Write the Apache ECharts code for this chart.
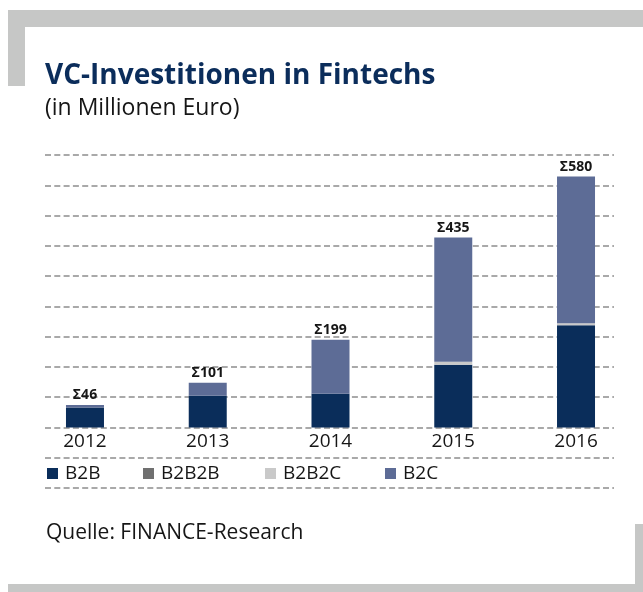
<!DOCTYPE html>
<html>
<head>
<meta charset="utf-8">
<script src="https://cdn.jsdelivr.net/npm/echarts@6/dist/echarts.min.js"></script>
<style>
html,body{margin:0;padding:0;background:#fff;}
#chart{width:643px;height:592px;}
</style>
</head>
<body>
<div id="chart"></div>
<script>
const years = ['2012', '2013', '2014', '2015', '2016'];
const b2b = [46, 73, 78, 145, 236];
const b2b2b = [0, 0, 0, 0, 0];
const b2b2c = [0, 0, 0, 7, 5];
const b2c = [6, 30, 125, 287, 339];
const totals = [46, 101, 199, 435, 580];
const seriesNames = ['B2B', 'B2B2B', 'B2B2C', 'B2C'];

const FONT = 'Open Sans';
const TEXT = '#161616';
const colors = ['#0a2d5a', '#707070', '#c9c9c9', '#5d6c96'];
const FRAME = '#c6c7c6';

const chart = echarts.init(document.getElementById('chart'), null, {renderer: 'canvas'});

const legendLefts = [47, 143, 265, 385];
const legends = seriesNames.map((n, i) => ({
  data: [n],
  left: legendLefts[i],
  top: 464,
  padding: 0,
  icon: 'rect',
  itemWidth: 11,
  itemHeight: 11,
  itemGap: 0,
  selectedMode: false,
  textStyle: {fontFamily: FONT, fontSize: 19, color: TEXT, padding: [0, 0, 0, 2]}
}));

const seriesData = [b2b, b2b2b, b2b2c, b2c];
const series = seriesNames.map((n, i) => ({
  name: n,
  type: 'bar',
  stack: 'total',
  xAxisIndex: 1,
  yAxisIndex: 1,
  barWidth: 38,
  itemStyle: {color: colors[i]},
  data: seriesData[i],
  label: i === 3 ? {
    show: true,
    position: 'top',
    distance: 3,
    formatter: p => '\u03A3' + totals[p.dataIndex],
    fontFamily: FONT,
    fontWeight: 'bold',
    fontSize: 14,
    color: TEXT
  } : {show: false}
}));

const option = {
  animation: false,
  backgroundColor: '#ffffff',
  legend: legends,
  grid: [
    {left: 45, right: 29, top: 155, bottom: 104},
    {left: 23.6, right: 5.6, top: 155, bottom: 164.6}
  ],
  xAxis: [
    {gridIndex: 0, type: 'value', show: false, min: 0, max: 1},
    {
      gridIndex: 1, type: 'category', data: years,
      axisLine: {show: false}, axisTick: {show: false},
      axisLabel: {fontFamily: FONT, fontSize: 19, color: TEXT, margin: 5}
    }
  ],
  yAxis: [
    {
      gridIndex: 0, type: 'value', min: -140, max: 630, interval: 70,
      axisLine: {show: false}, axisTick: {show: false}, axisLabel: {show: false},
      splitLine: {show: true, lineStyle: {color: '#a9a9a9', width: 2, type: [6, 3.3]}}
    },
    {gridIndex: 1, type: 'value', min: 0, max: 630, show: false}
  ],
  series: series,
  graphic: [
    {type: 'rect', shape: {x: 8, y: 10, width: 635, height: 17}, style: {fill: FRAME}, silent: true},
    {type: 'rect', shape: {x: 8, y: 10, width: 17, height: 76}, style: {fill: FRAME}, silent: true},
    {type: 'rect', shape: {x: 8, y: 584, width: 635, height: 8}, style: {fill: FRAME}, silent: true},
    {type: 'rect', shape: {x: 635, y: 524, width: 8, height: 68}, style: {fill: FRAME}, silent: true},
    {type: 'text', x: 45, y: 76, style: {text: 'VC-Investitionen in Fintechs', fill: '#0b2d5b', font: 'bold 28px "Open Sans"', textVerticalAlign: 'middle'}},
    {type: 'text', x: 45, y: 108, style: {text: '(in Millionen Euro)', fill: TEXT, font: '23px "Open Sans"', textVerticalAlign: 'middle'}},
    {type: 'text', x: 46, y: 533, style: {text: 'Quelle: FINANCE-Research', fill: TEXT, font: '21px "Open Sans"', textVerticalAlign: 'middle'}}
  ]
};
chart.setOption(option);
</script>
</body>
</html>
